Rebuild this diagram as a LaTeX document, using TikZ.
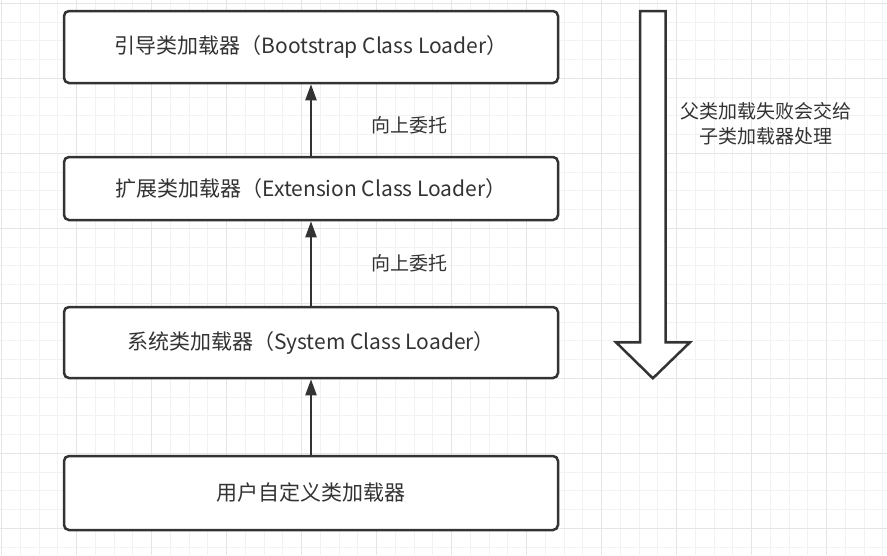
\documentclass[tikz,border=0pt]{standalone}
\usepackage{fontspec}
\setmainfont{Noto Sans CJK SC}
\usetikzlibrary{arrows.meta}
\definecolor{inkgray}{HTML}{333333}
\definecolor{minorgrid}{HTML}{F2F2F2}
\definecolor{majorgrid}{HTML}{E5E5E5}
\tikzset{
  loader/.style={draw=inkgray, line width=2.5pt, rounded corners=5pt, fill=white,
    minimum width=494pt, text=inkgray, inner sep=0pt,
    font=\fontsize{21}{25}\selectfont},
  delegate/.style={-{Triangle[width=11pt,length=16pt]}, draw=inkgray, line width=2.2pt},
  tag/.style={text=inkgray, inner sep=0pt, font=\fontsize{19}{25}\selectfont}
}
\begin{document}
\begin{tikzpicture}[x=1pt, y=-1pt]
\useasboundingbox[fill=white] (0,0) rectangle (887,555);
% grid
\foreach \k in {0,...,47} \draw[minorgrid, line width=1pt] (1.7+18.75*\k,0) -- (1.7+18.75*\k,555);
\foreach \k in {0,...,29} \draw[minorgrid, line width=1pt] (0,3.3+18.75*\k) -- (887,3.3+18.75*\k);
\foreach \k in {0,...,11} \draw[majorgrid, line width=1pt] (1.7+75*\k,0) -- (1.7+75*\k,555);
\foreach \k in {0,...,7} \draw[majorgrid, line width=1pt] (0,3.3+75*\k) -- (887,3.3+75*\k);

% loaders
\node[loader, minimum height=72pt] (boot) at (311,47) {引导类加载器（Bootstrap Class Loader）};
\node[loader, minimum height=63pt] (ext) at (311,188.5) {扩展类加载器（Extension Class Loader）};
\node[loader, minimum height=71pt] (sys) at (311,342.5) {系统类加载器（System Class Loader）};
\node[loader, minimum height=74pt] (user) at (311,493) {用户自定义类加载器};

\draw[delegate] (ext) -- (boot);
\draw[delegate] (sys) -- (ext);
\draw[delegate] (user) -- (sys);
\node[tag] (upa) at (409,125) {向上委托};
\node[tag] (upb) at (409,263) {向上委托};

% fallback arrow
\draw[inkgray, line width=2.5pt, fill=white, line join=miter]
  (640,11) -- (665.7,11) -- (665.7,342.3) -- (690,342.3) -- (652.85,378.3)
  -- (616,342.3) -- (640,342.3) -- cycle;
\node[tag, align=center] (fallback) at (766,124) {父类加载失败会交给\\子类加载器处理};
\end{tikzpicture}
\end{document}
